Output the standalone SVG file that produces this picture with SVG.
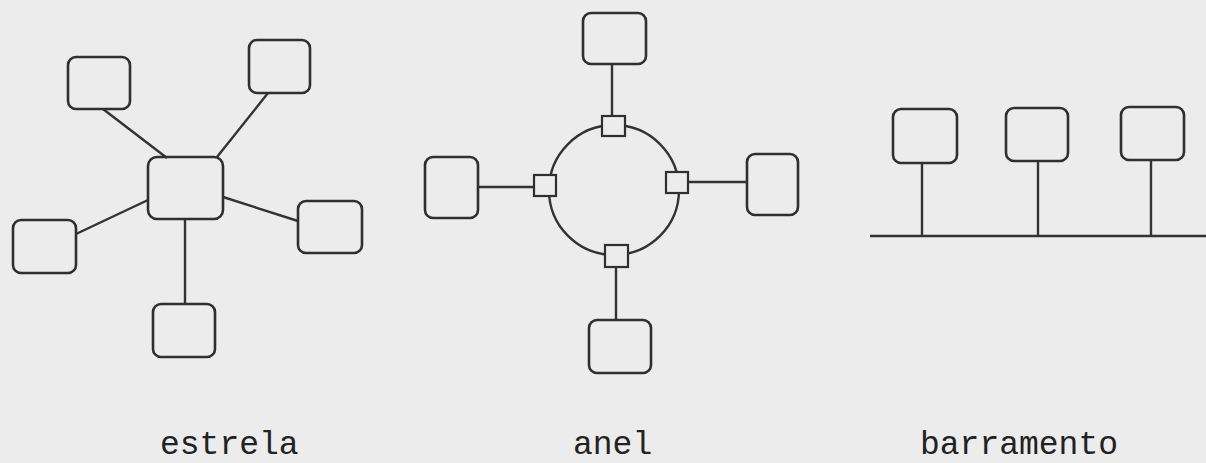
<svg xmlns="http://www.w3.org/2000/svg" width="1206" height="463" viewBox="0 0 1206 463">
<style>
.n{fill:none;stroke:#2f2f2f;stroke-width:2.6;}
.p{fill:#ececec;stroke:#2f2f2f;stroke-width:2.2;}
.c{fill:none;stroke:#333;stroke-width:2.4;}
.t{font-family:"Liberation Mono","DejaVu Sans Mono",monospace;font-size:33px;fill:#222;}
</style>
<rect width="1206" height="463" fill="#ececec"/>
<g id="connectors">
<line class="c" x1="103" y1="109" x2="167" y2="158"/>
<line class="c" x1="268" y1="93" x2="217" y2="157"/>
<line class="c" x1="223" y1="197" x2="298" y2="221"/>
<line class="c" x1="148" y1="200" x2="76" y2="234"/>
<line class="c" x1="185" y1="219" x2="185" y2="304"/>
<circle class="c" cx="614" cy="190" r="65"/>
<line class="c" x1="612" y1="64" x2="612" y2="116"/>
<line class="c" x1="478" y1="187" x2="534" y2="187"/>
<line class="c" x1="688" y1="182" x2="747" y2="182"/>
<line class="c" x1="616" y1="267" x2="616" y2="320"/>
<line class="c" x1="870" y1="236" x2="1206" y2="236"/>
<line class="c" x1="922" y1="163" x2="922" y2="236"/>
<line class="c" x1="1038" y1="161" x2="1038" y2="236"/>
<line class="c" x1="1151" y1="160" x2="1151" y2="236"/>
</g>
<g id="star-center"><rect class="n" x="148" y="157" width="75" height="62" rx="9"/></g>
<g id="star-tl"><rect class="n" x="68" y="57" width="62" height="52" rx="8"/></g>
<g id="star-tr"><rect class="n" x="249" y="40" width="61" height="53" rx="8"/></g>
<g id="star-r"><rect class="n" x="298" y="201" width="64" height="52" rx="8"/></g>
<g id="star-l"><rect class="n" x="13" y="220" width="63" height="53" rx="8"/></g>
<g id="star-b"><rect class="n" x="153" y="304" width="62" height="53" rx="8"/></g>
<g id="ring-top"><rect class="n" x="583" y="13" width="63" height="51" rx="8"/></g>
<g id="ring-left"><rect class="n" x="425" y="157" width="53" height="61" rx="8"/></g>
<g id="ring-right"><rect class="n" x="747" y="154" width="51" height="61" rx="8"/></g>
<g id="ring-bottom"><rect class="n" x="589" y="320" width="62" height="53" rx="8"/></g>
<g id="port-top"><rect class="p" x="602" y="116" width="23" height="20"/></g>
<g id="port-left"><rect class="p" x="534" y="175" width="22" height="21"/></g>
<g id="port-right"><rect class="p" x="666" y="172" width="22" height="21"/></g>
<g id="port-bottom"><rect class="p" x="605" y="245" width="23" height="22"/></g>
<g id="bus-1"><rect class="n" x="893" y="109" width="64" height="54" rx="8"/></g>
<g id="bus-2"><rect class="n" x="1006" y="108" width="62" height="53" rx="8"/></g>
<g id="bus-3"><rect class="n" x="1121" y="107" width="63" height="53" rx="8"/></g>
<g id="labels">
<text class="t" x="160" y="454">estrela</text>
<text class="t" x="573" y="454">anel</text>
<text class="t" x="920" y="454">barramento</text>
</g>
</svg>
